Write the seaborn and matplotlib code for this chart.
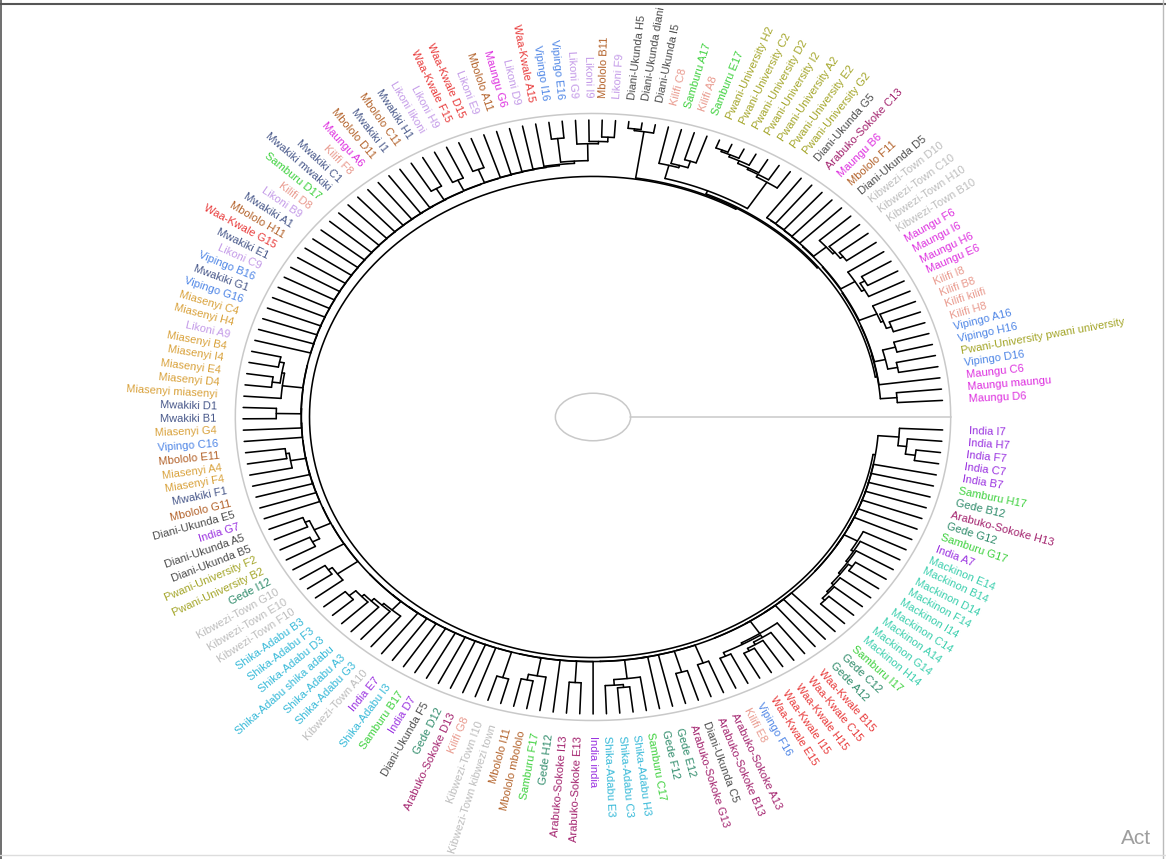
import numpy as np
import pandas as pd
import matplotlib
matplotlib.use("Agg")
import matplotlib.pyplot as plt
from matplotlib.lines import Line2D
from matplotlib.patches import Ellipse
import seaborn as sns

# tip labels, counter-clockwise starting just above the opening on the right
labels = [
    "Maungu D6", "Maungu maungu", "Maungu C6", "Vipingo D16", "Pwani-University pwani university",
    "Vipingo H16", "Vipingo A16", "Kilifi H8", "Kilifi kilifi", "Kilifi B8", "Kilifi I8",
    "Maungu E6", "Maungu H6", "Maungu I6", "Maungu F6", "Kibwezi-Town B10", "Kibwezi-Town H10",
    "Kibwezi-Town C10", "Kibwezi-Town D10", "Diani-Ukunda D5", "Mbololo F11", "Maungu B6",
    "Arabuko-Sokoke C13", "Diani-Ukunda G5", "Pwani-University G2", "Pwani-University E2",
    "Pwani-University A2", "Pwani-University I2", "Pwani-University D2", "Pwani-University C2",
    "Pwani-University H2", "Samburu E17", "Kilifi A8", "Samburu A17", "Kilifi C8",
    "Diani-Ukunda I5", "Diani-Ukunda diani", "Diani-Ukunda H5", "Likoni F9", "Mbololo B11",
    "Likoni I9", "Likoni G9", "Vipingo E16", "Vipingo I16", "Waa-Kwale A15", "Likoni D9",
    "Maungu G6", "Mbololo A11", "Likoni E9", "Waa-Kwale D15", "Waa-Kwale F15", "Likoni H9",
    "Likoni likoni", "Mwakiki H1", "Mbololo C11", "Mwakiki I1", "Mbololo D11", "Maungu A6",
    "Kilifi F8", "Mwakiki C1", "Mwakiki mwakiki", "Samburu D17", "Kilifi D8", "Likoni B9",
    "Mwakiki A1", "Mbololo H11", "Waa-Kwale G15", "Mwakiki E1", "Likoni C9", "Vipingo B16",
    "Mwakiki G1", "Vipingo G16", "Miasenyi C4", "Miasenyi H4", "Likoni A9", "Miasenyi B4",
    "Miasenyi I4", "Miasenyi E4", "Miasenyi D4", "Miasenyi miasenyi", "Mwakiki D1",
    "Mwakiki B1", "Miasenyi G4", "Vipingo C16", "Mbololo E11", "Miasenyi A4", "Miasenyi F4",
    "Mwakiki F1", "Mbololo G11", "Diani-Ukunda E5", "India G7", "Diani-Ukunda A5",
    "Diani-Ukunda B5", "Pwani-University F2", "Pwani-University B2", "Gede I12",
    "Kibwezi-Town G10", "Kibwezi-Town E10", "Kibwezi-Town F10", "Shika-Adabu B3",
    "Shika-Adabu F3", "Shika-Adabu D3", "Shika-Adabu shika adabu", "Shika-Adabu A3",
    "Shika-Adabu G3", "Kibwezi-Town A10", "India E7", "Shika-Adabu I3", "Samburu B17",
    "India D7", "Diani-Ukunda F5", "Gede D12", "Arabuko-Sokoke D13", "Kilifi G8",
    "Kibwezi-Town I10", "Kibwezi-Town kibwezi town", "Mbololo I11", "Mbololo mbololo",
    "Samburu F17", "Gede H12", "Arabuko-Sokoke I13", "Arabuko-Sokoke E13", "India india",
    "Shika-Adabu E3", "Shika-Adabu C3", "Shika-Adabu H3", "Samburu C17", "Gede F12",
    "Gede E12", "Arabuko-Sokoke G13", "Diani-Ukunda C5", "Arabuko-Sokoke B13",
    "Arabuko-Sokoke A13", "Kilifi E8", "Vipingo F16", "Waa-Kwale E15", "Waa-Kwale I15",
    "Waa-Kwale H15", "Waa-Kwale C15", "Waa-Kwale B15", "Gede A12", "Gede C12", "Samburu I17",
    "Mackinon H14", "Mackinon G14", "Mackinon A14", "Mackinon C14", "Mackinon I14",
    "Mackinon F14", "Mackinon D14", "Mackinon B14", "Mackinon E14", "India A7", "Samburu G17",
    "Gede G12", "Arabuko-Sokoke H13", "Gede B12", "Samburu H17", "India B7", "India C7",
    "India F7", "India H7", "India I7",
]

# merge height between neighbouring tips (0 = tip, 1 = root)
merge_h = [
    0.68, 0.93, 0.925, 0.60, 0.75, 0.55, 0.92, 0.50, 0.58, 0.62,
    0.91, 0.60, 0.52, 0.65, 0.90, 0.55, 0.60, 0.64, 0.89, 0.885,
    0.88, 0.875, 0.87, 0.96, 0.35, 0.30, 0.27, 0.22, 0.18, 0.15,
    0.90, 0.50, 0.62, 0.66, 0.98, 0.15, 0.12, 1.00, 0.30, 0.38,
    0.42, 0.72, 0.30, 0.76, 0.78, 0.785, 0.79, 0.795, 0.80, 0.55,
    0.805, 0.60, 0.81, 0.58, 0.815, 0.82, 0.822, 0.825, 0.828, 0.83,
    0.833, 0.836, 0.84, 0.842, 0.845, 0.848, 0.85, 0.852, 0.855, 0.858,
    0.86, 0.862, 0.865, 0.868, 0.87, 0.45, 0.52, 0.40, 0.56, 0.872,
    0.50, 0.875, 0.878, 0.88, 0.60, 0.65, 0.882, 0.885, 0.887, 0.89,
    0.892, 0.55, 0.62, 0.50, 0.895, 0.897, 0.45, 0.52, 0.90, 0.42,
    0.55, 0.60, 0.66, 0.70, 0.902, 0.904, 0.906, 0.908, 0.91, 0.912,
    0.914, 0.916, 0.918, 0.92, 0.45, 0.922, 0.50, 0.60, 0.924, 0.926,
    0.55, 0.928, 0.93, 0.50, 0.45, 0.60, 0.932, 0.934, 0.936, 0.55,
    0.938, 0.60, 0.94, 0.58, 0.65, 0.50, 0.55, 0.60, 0.68, 0.942,
    0.944, 0.946, 0.948, 0.50, 0.55, 0.58, 0.62, 0.55, 0.65, 0.68,
    0.72, 0.95, 0.952, 0.954, 0.956, 0.958, 0.96, 0.962, 0.965, 0.37,
    0.52, 0.65,
]

site_colors = {
    "Maungu": "#DD2FDF", "Vipingo": "#4F86E6", "Pwani-University": "#A3A528",
    "Kilifi": "#E99A8E", "Kibwezi-Town": "#BDBDBD", "Diani-Ukunda": "#4D4D4D",
    "Mbololo": "#B3622A", "Arabuko-Sokoke": "#A3236E", "Samburu": "#3ED13E",
    "Likoni": "#C49BE8", "Waa-Kwale": "#E83A3A", "Mwakiki": "#48588A",
    "Miasenyi": "#D9A23C", "India": "#9A32E0", "Gede": "#2E8B6A",
    "Shika-Adabu": "#36B9D8", "Mackinon": "#3CCFAE",
}

# layout
R_TIP, DEPTH, R_LAB, R_RING = 1.0, 0.19, 1.075, 1.022
PX_X, PX_Y = 350.0, 297.0   # pixels per unit, the picture is stretched sideways
theta = np.deg2rad(np.linspace(3.2, 357.5, len(labels)))


def rad(h):
    return R_TIP - DEPTH * h


rows = []


def add_line(xs, ys):
    sid = len(rows)
    for x, y in zip(xs, ys):
        rows.append((sid, x, y))


def build(lo, hi):
    # split the tip range at its highest merge -> binary dendrogram
    if lo == hi:
        return theta[lo], 0.0
    k = lo + int(np.argmax(merge_h[lo:hi]))
    a1, h1 = build(lo, k)
    a2, h2 = build(k + 1, hi)
    h = merge_h[k]
    r = rad(h)
    t = np.linspace(a1, a2, max(2, int(abs(a2 - a1) / 0.01) + 2))
    add_line(r * np.cos(t), r * np.sin(t))
    for a, hc in ((a1, h1), (a2, h2)):
        add_line([r * np.cos(a), rad(hc) * np.cos(a)], [r * np.sin(a), rad(hc) * np.sin(a)])
    return (a1 + a2) / 2, h


build(0, len(labels) - 1)
edges = pd.DataFrame(rows, columns=["seg", "x", "y"])

sns.set_theme(style="white")
plt.rcParams["font.family"] = ["Liberation Sans", "DejaVu Sans"]

fig = plt.figure(figsize=(11.66, 8.59), dpi=100)
ax = fig.add_axes([0, 0, 1, 1])

# grey frame of the fan
tt = np.linspace(theta[0] - np.deg2rad(3.2), theta[-1] + np.deg2rad(2.5), 400)
ax.plot(R_RING * np.cos(tt), R_RING * np.sin(tt), color="#C9C9C9", lw=1.1)
ax.plot([0.105, R_RING], [0, 0], color="#C9C9C9", lw=1.1)
ax.add_patch(Ellipse((0, 0), 0.215, 0.16, fill=False, ec="#C9C9C9", lw=1.1))

sns.lineplot(data=edges, x="x", y="y", units="seg", estimator=None, sort=False,
             color="black", linewidth=1.15, ax=ax, legend=False)

for lab, a in zip(labels, theta):
    site = lab.split(" ")[0]
    phi = np.degrees(np.arctan2(PX_Y * np.sin(a), PX_X * np.cos(a)))
    if np.cos(a) < 0:
        rot, ha = phi - 180, "right"
    else:
        rot, ha = phi, "left"
    ax.text(R_LAB * np.cos(a), R_LAB * np.sin(a), lab, color=site_colors[site],
            fontsize=8.0, rotation=rot, rotation_mode="anchor", ha=ha, va="center")

ax.set_xlim(-593 / PX_X, (1166 - 593) / PX_X)
ax.set_ylim(-(859 - 417) / PX_Y, 417 / PX_Y)
ax.set_axis_off()

# screenshot frame and watermark
fig.add_artist(Line2D([0, 1], [1 - 4 / 859, 1 - 4 / 859], color="#555555", lw=1.5))
fig.add_artist(Line2D([1 / 1166, 1 / 1166], [0, 1], color="#555555", lw=1.2))
fig.add_artist(Line2D([1163 / 1166, 1163 / 1166], [0, 1], color="#BBBBBB", lw=1.0))
fig.add_artist(Line2D([0, 1], [4 / 859, 4 / 859], color="#DDDDDD", lw=1.0))
fig.text(1121 / 1166, 1 - 838 / 859, "Act", color="#9E9E9E", fontsize=15, va="center")

fig.savefig("out.png", dpi=100)
